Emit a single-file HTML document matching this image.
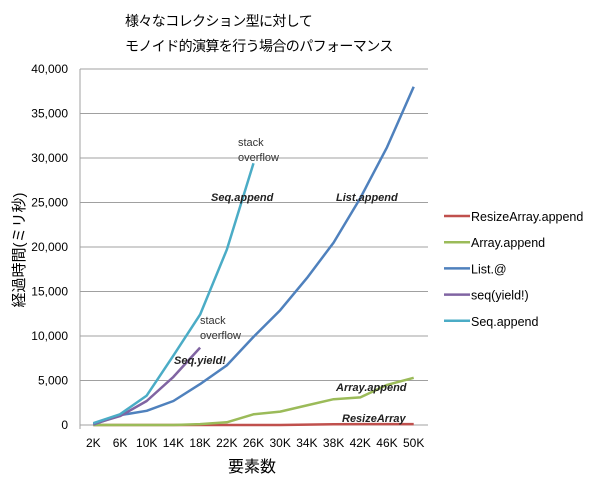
<!DOCTYPE html>
<html><head><meta charset="utf-8">
<style>
html,body{margin:0;padding:0;background:#fff;}
svg text{font-family:"Liberation Sans","Noto Sans CJK JP",sans-serif;}
</style></head>
<body>
<svg id="chart" width="600" height="482" viewBox="0 0 600 482" xmlns="http://www.w3.org/2000/svg">
<g>
<text x="125" y="26" font-size="14" fill="#000" letter-spacing="-0.6">様々なコレクション型に対して</text>
<text x="125" y="51" font-size="14" fill="#000" letter-spacing="-0.6">モノイド的演算を行う場合のパフォーマンス</text>
</g>
<g id="grid"></g>
<g id="yticks"></g>
<g id="xticks"></g>
<g id="series"></g>
<text transform="translate(24,250) rotate(-90)" text-anchor="middle" font-size="15" fill="#000">経過時間(ミリ秒)</text>
<text x="252" y="472" text-anchor="middle" font-size="16" fill="#000">要素数</text>
<g font-size="11" fill="#333">
<text x="238" y="146">stack</text>
<text x="238" y="161">overflow</text>
<text x="211" y="201" font-weight="bold" font-style="italic" fill="#222">Seq.append</text>
<text x="336" y="201" font-weight="bold" font-style="italic" fill="#222">List.append</text>
<text x="200" y="324">stack</text>
<text x="200" y="339">overflow</text>
<text x="174" y="364" font-weight="bold" font-style="italic" fill="#222">Seq.yield!</text>
<text x="336" y="391" font-weight="bold" font-style="italic" fill="#222">Array.append</text>
<text x="342" y="422" font-weight="bold" font-style="italic" fill="#222">ResizeArray</text>
</g>
<g id="legend"></g>
</svg>
<script>
const categories = ["2K","6K","10K","14K","18K","22K","26K","30K","34K","38K","42K","46K","50K"];
const yTicks = [0,5000,10000,15000,20000,25000,30000,35000,40000];
const yTickLabels = ["0","5,000","10,000","15,000","20,000","25,000","30,000","35,000","40,000"];
const resizeArrayValues = [0,0,0,0,0,0,0,0,50,80,100,100,100];
const arrayAppendValues = [0,0,0,0,100,300,1200,1500,2200,2900,3100,4500,5300];
const listAtValues = [50,1100,1600,2700,4600,6700,9900,12900,16500,20500,25500,31200,38000];
const seqYieldValues = [100,1000,2700,5400,8700];
const seqAppendValues = [200,1200,3300,7800,12400,19700,29400];
const seriesNames = ["ResizeArray.append","Array.append","List.@","seq(yield!)","Seq.append"];
const seriesColors = ["#c0504d","#9bbb59","#4f81bd","#8064a2","#4bacc6"];
const seriesValues = [resizeArrayValues,arrayAppendValues,listAtValues,seqYieldValues,seqAppendValues];

const NS="http://www.w3.org/2000/svg";
const plotL=80, plotR=427, plotTop=69, plotBot=425, yMax=40000;
const band=(plotR-plotL)/categories.length;
function xScale(i){return plotL+band*(i+0.5);}
function yScale(v){return plotBot-(v/yMax)*(plotBot-plotTop);}
function mk(tag,attrs,parent){const e=document.createElementNS(NS,tag);for(const k in attrs)e.setAttribute(k,attrs[k]);parent.appendChild(e);return e;}

const grid=document.getElementById('grid');
const yt=document.getElementById('yticks');
yTicks.forEach((v,i)=>{
  const y=yScale(v);
  const l=mk('line',{x1:plotL,x2:plotR+1,y1:y,y2:y,stroke:'#a0a0a0','stroke-width':1},grid);
  
  
  const t=mk('text',{x:68,y:y+4,'text-anchor':'end','font-size':12,fill:'#000'},yt);
  t.textContent=yTickLabels[i];
  
  
});
const ax=mk('line',{x1:plotL,x2:plotL,y1:plotTop,y2:plotBot+4,stroke:'#a0a0a0','stroke-width':1},grid);


const xt=document.getElementById('xticks');
categories.forEach((c,i)=>{
  const t=mk('text',{x:xScale(i),y:447,'text-anchor':'middle','font-size':12,fill:'#000'},xt);
  t.textContent=c;
  
  
});
const sg=document.getElementById('series');
seriesValues.forEach((vals,s)=>{
  const pts=vals.map((v,i)=>xScale(i).toFixed(1)+','+yScale(v).toFixed(1)).join(' ');
  const p=mk('polyline',{points:pts,fill:'none',stroke:seriesColors[s],'stroke-width':2.5,'stroke-linejoin':'round'},sg);
  
  
});
const lg=document.getElementById('legend');
seriesNames.forEach((n,i)=>{
  const y=216+i*26.2;
  const l=mk('line',{x1:444,x2:470,y1:y,y2:y,stroke:seriesColors[i],'stroke-width':2.5},lg);
  
  
  const t=mk('text',{x:471,y:y+5,'font-size':12.5,fill:'#000'},lg);
  t.textContent=n;
  
  
});
</script>
</body></html>
